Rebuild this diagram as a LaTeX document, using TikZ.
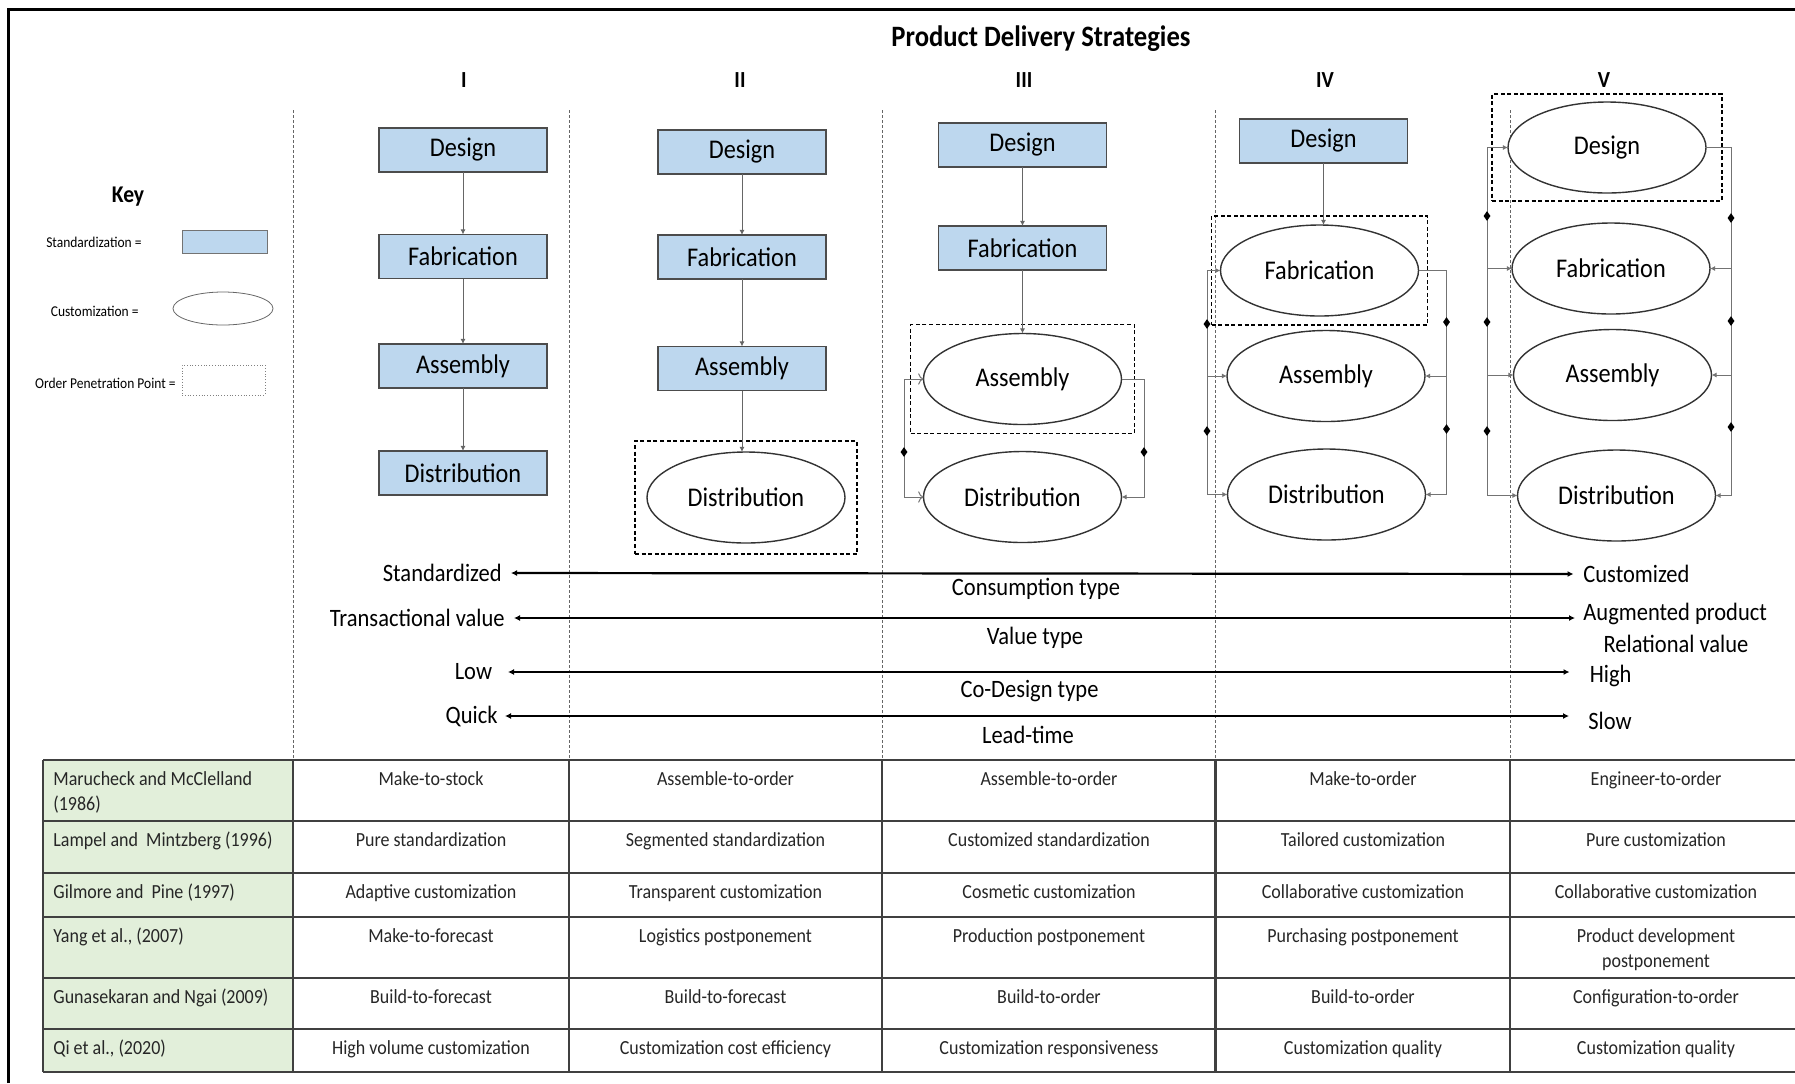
\documentclass[tikz,border=0pt]{standalone}
\usepackage{fontspec}
\setmainfont{Carlito}[FakeStretch=0.9]
\usepackage{tikz}
\usetikzlibrary{shapes.geometric,arrows.meta,fit,positioning}

\definecolor{stdblue}{RGB}{189,215,238}
\definecolor{leadgreen}{RGB}{226,239,218}

\begin{document}
\begin{tikzpicture}[x=0.5pt,y=-0.5pt]
	%\draw[help lines] (0,0) grid (1795,1083);
	\tikzset{
	stdbox/.style = {rectangle, draw=black!70, fill=stdblue, line width=0.6pt,
		minimum width=84pt, minimum height=22pt, inner sep=0pt, outer sep=0pt,
		font=\fontsize{13.5}{16}\selectfont},
	custell/.style = {ellipse, draw=black!80, fill=white, line width=0.7pt,
		minimum width=99pt, minimum height=45.5pt, inner sep=0pt, outer sep=0pt,
		font=\fontsize{13.5}{16}\selectfont},
	oppbox/.style = {rectangle, draw=black, line width=0.75pt, dash pattern=on 2pt off 1.3pt},
	coldiv/.style = {draw=black!60, line width=0.4pt, dash pattern=on 1.5pt off 1pt},
	flow/.style = {draw=black!60, line width=0.5pt, -{Latex[length=2.6pt,width=2.6pt]}},
	loopln/.style = {draw=black!55, line width=0.5pt, arrows={-{Latex[length=2.6pt,width=2.6pt]}}},
	dmd/.style = {diamond, fill=black, inner sep=0pt, minimum width=3.6pt, minimum height=5pt},
	axis/.style = {line width=1.1pt, {Latex[length=3pt,width=3pt]}-{Latex[length=3pt,width=3pt]}},
	axtxt/.style = {inner sep=0pt, font=\fontsize{12.5}{15}\selectfont},
	keytxt/.style = {inner sep=0pt, anchor=east, font=\fontsize{7.5}{9}\selectfont},
	numtxt/.style = {font=\bfseries\fontsize{11.5}{14}\selectfont},
	tcell/.style = {anchor=base, inner sep=0pt, align=center, text=black!85,
		font=\fontsize{10}{12.5}\selectfont},
	tlead/.style = {tcell, anchor=base west, align=left},
	tline/.style = {draw=black!75, line width=1.1pt}
	}
	\useasboundingbox (0,0) rectangle (1795,1083);
	
	% frame and column lines
	\draw[line width=1.5pt] (8,1083) -- (8,9.5) -- (1795,9.5);
	\draw[coldiv] (293,110) -- (293,760);
	\draw[coldiv] (569,110) -- (569,760);
	\draw[coldiv] (882,110) -- (882,760);
	\draw[coldiv] (1215.5,110) -- (1215.5,760);
	\draw[coldiv] (1510,110) -- (1510,760);
	
	\node[font=\bfseries\fontsize{14.8}{17}\selectfont] (title) at (1041,39) {Product Delivery Strategies};
	\node[numtxt] (n1) at (464,80) {I};
	\node[numtxt] (n2) at (740,80) {II};
	\node[numtxt] (n3) at (1024,80) {III};
	\node[numtxt] (n4) at (1325,80) {IV};
	\node[numtxt] (n5) at (1604,80) {V};
	
	% key
	\node[font=\bfseries\fontsize{12}{14}\selectfont] (keyttl) at (128,197) {Key};
	\node[keytxt] (keystd) at (142,242) {Standardization =};
	\node[rectangle, draw=black!55, fill=stdblue, minimum width=42.5pt, minimum height=11.5pt] (keyrect) at (224.5,241.5) {};
	\node[keytxt] (keycus) at (139,311) {Customization =};
	\node[ellipse, draw=black!60, minimum width=50pt, minimum height=16.5pt] (keyell) at (223,308.5) {};
	\node[keytxt] (keyopp) at (176,383) {Order Penetration Point =};
	\node[rectangle, draw=black!50, densely dotted, minimum width=41.5pt, minimum height=15pt] (keydot) at (223.5,380) {};
	
	% I
	\node[stdbox] (des1) at (463,150) {Design};
	\node[stdbox] (fab1) at (463,256.5) {Fabrication};
	\node[stdbox] (asm1) at (463,366) {Assembly};
	\node[stdbox] (dis1) at (463,473) {Distribution};
	\draw[flow] (des1) -- (fab1);
	\draw[flow] (fab1) -- (asm1);
	\draw[flow] (asm1) -- (dis1);
	
	% II
	\node[stdbox] (des2) at (742,152) {Design};
	\node[stdbox] (fab2) at (742,257) {Fabrication};
	\node[stdbox] (asm2) at (742,368.5) {Assembly};
	\node[custell] (dis2) at (746,497.5) {Distribution};
	\node[oppbox, fit=(dis2), inner xsep=6pt, inner ysep=5.5pt] (opp2) {};
	\draw[flow] (des2) -- (fab2);
	\draw[flow] (fab2) -- (asm2);
	\draw[flow] (asm2.south) -- (asm2.south |- dis2.north);
	
	% III
	\node[stdbox] (des3) at (1022.5,145) {Design};
	\node[stdbox] (fab3) at (1022.5,248) {Fabrication};
	\node[custell] (asm3) at (1022.5,379) {Assembly};
	\node[custell] (dis3) at (1022.5,497) {Distribution};
	\node[oppbox, fit=(asm3), inner xsep=6.5pt, inner ysep=4.5pt] (opp3) {};
	\draw[flow] (des3) -- (fab3);
	\draw[flow] (fab3) -- (asm3);
	\coordinate (l3) at (904,0);
	\coordinate (r3) at (1144,0);
	\draw[loopln, <->] (asm3.west) -- (asm3.west -| l3) -- (dis3.west -| l3) -- (dis3.west);
	\draw[loopln] (asm3.east) -- (asm3.east -| r3) -- (dis3.east -| r3) -- (dis3.east);
	\node[dmd] (dm3a) at (904,452) {};
	\node[dmd] (dm3b) at (1144,452) {};
	
	% IV
	\node[stdbox] (des4) at (1323.5,141) {Design};
	\node[custell] (fab4) at (1319.5,270.5) {Fabrication};
	\node[custell] (asm4) at (1326,376) {Assembly};
	\node[custell] (dis4) at (1326.5,494.5) {Distribution};
	\node[oppbox, fit=(fab4), inner xsep=4.5pt, inner ysep=4.5pt] (opp4) {};
	\draw[flow] (des4.south) -- (des4.south |- fab4.north);
	\coordinate (l4) at (1207,0);
	\coordinate (r4) at (1446.5,0);
	\draw[loopln, -] (fab4.west -| l4) -- (dis4.west -| l4);
	\draw[loopln] (fab4.west -| l4) -- (fab4.west);
	\draw[loopln] (asm4.west -| l4) -- (asm4.west);
	\draw[loopln] (dis4.west -| l4) -- (dis4.west);
	\draw[loopln, -] (fab4.east) -- (fab4.east -| r4) -- (dis4.east -| r4);
	\draw[loopln] (asm4.east -| r4) -- (asm4.east);
	\draw[loopln] (dis4.east -| r4) -- (dis4.east);
	\node[dmd] (dm4a) at (1207,324) {};
	\node[dmd] (dm4b) at (1207,431) {};
	\node[dmd] (dm4c) at (1446.5,322) {};
	\node[dmd] (dm4d) at (1446.5,429) {};
	
	% V
	\node[custell] (des5) at (1607,147.5) {Design};
	\node[custell] (fab5) at (1611,268.5) {Fabrication};
	\node[custell] (asm5) at (1612.5,375) {Assembly};
	\node[custell] (dis5) at (1616.5,495.5) {Distribution};
	\node[oppbox, fit=(des5), inner xsep=8pt, inner ysep=4pt] (opp5) {};
	\coordinate (l5) at (1487,0);
	\coordinate (r5) at (1731,0);
	\draw[loopln, -] (des5.west -| l5) -- (dis5.west -| l5);
	\draw[loopln] (des5.west -| l5) -- (des5.west);
	\draw[loopln] (fab5.west -| l5) -- (fab5.west);
	\draw[loopln] (asm5.west -| l5) -- (asm5.west);
	\draw[loopln] (dis5.west -| l5) -- (dis5.west);
	\draw[loopln, -] (des5.east) -- (des5.east -| r5) -- (dis5.east -| r5);
	\draw[loopln] (fab5.east -| r5) -- (fab5.east);
	\draw[loopln] (asm5.east -| r5) -- (asm5.east);
	\draw[loopln] (dis5.east -| r5) -- (dis5.east);
	\node[dmd] (dm5a) at (1487,216) {};
	\node[dmd] (dm5b) at (1487,322) {};
	\node[dmd] (dm5c) at (1487,431) {};
	\node[dmd] (dm5d) at (1731,218) {};
	\node[dmd] (dm5e) at (1731,321) {};
	\node[dmd] (dm5f) at (1731,427) {};
	
	% scales
	\node[axtxt, anchor=east] (stdz) at (502,573) {Standardized};
	\node[axtxt, anchor=west] (cust) at (1583,574) {Customized};
	\node[axtxt] (cons) at (1036,589) {Consumption type};
	\draw[axis, shorten <=4.5pt, shorten >=4.75pt] (stdz.east) -- (cust.west);
	
	\node[axtxt, anchor=east] (trans) at (505,618) {Transactional value};
	\node[axtxt, anchor=west] (augm) at (1583,614) {Augmented product};
	\node[axtxt] (relv) at (1676,644) {Relational value};
	\node[axtxt] (valt) at (1035,638) {Value type};
	\draw[axis, shorten <=4.5pt, shorten >=4pt] (trans.east) -- (trans.east -| augm.west);
	
	\node[axtxt, anchor=east] (low) at (492.5,672) {Low};
	\node[axtxt, anchor=west] (high) at (1589.5,676) {High};
	\node[axtxt] (codes) at (1029.5,691) {Co-Design type};
	\draw[axis, shorten <=7.75pt, shorten >=10pt] (low.east) -- (low.east -| high.west);
	
	\node[axtxt, anchor=east] (quick) at (498,716) {Quick};
	\node[axtxt, anchor=west] (slow) at (1588,721) {Slow};
	\node[axtxt] (leadt) at (1028,735) {Lead-time};
	\draw[axis, shorten <=3.5pt, shorten >=9.5pt] (quick.east) -- (quick.east -| slow.west);
	
	% table
	\fill[leadgreen] (43,760) rectangle (293,1072);
	\draw[tline] (43,760) -- (1800,760);
	\draw[tline] (43,821) -- (1800,821);
	\draw[tline] (43,873) -- (1800,873);
	\draw[tline] (43,917) -- (1800,917);
	\draw[tline] (43,978) -- (1800,978);
	\draw[tline] (43,1029) -- (1800,1029);
	\draw[tline] (43,1072) -- (1800,1072);
	\draw[tline] (43,760) -- (43,1072);
	\draw[tline] (293,760) -- (293,1072);
	\draw[tline] (569,760) -- (569,1072);
	\draw[tline] (882,760) -- (882,1072);
	\draw[tline] (1215.5,760) -- (1215.5,1072);
	\draw[tline] (1510,760) -- (1510,1072);
	
	% two-line cells sit on the baseline of their last line
	\node[tlead] (t10) at (53,810) {Marucheck and McClelland\\(1986)};
	\node[tcell] (t11) at (431,785) {Make-to-stock};
	\node[tcell] (t12) at (725.5,785) {Assemble-to-order};
	\node[tcell] (t13) at (1049,785) {Assemble-to-order};
	\node[tcell] (t14) at (1363,785) {Make-to-order};
	\node[tcell] (t15) at (1656,785) {Engineer-to-order};
	
	\node[tlead] (t20) at (53,846) {Lampel and~ Mintzberg (1996)};
	\node[tcell] (t21) at (431,846) {Pure standardization};
	\node[tcell] (t22) at (725.5,846) {Segmented standardization};
	\node[tcell] (t23) at (1049,846) {Customized standardization};
	\node[tcell] (t24) at (1363,846) {Tailored customization};
	\node[tcell] (t25) at (1656,846) {Pure customization};
	
	\node[tlead] (t30) at (53,898) {Gilmore and~ Pine (1997)};
	\node[tcell] (t31) at (431,898) {Adaptive customization};
	\node[tcell] (t32) at (725.5,898) {Transparent customization};
	\node[tcell] (t33) at (1049,898) {Cosmetic customization};
	\node[tcell] (t34) at (1363,898) {Collaborative customization};
	\node[tcell] (t35) at (1656,898) {Collaborative customization};
	
	\node[tlead] (t40) at (53,942) {Yang et al., (2007)};
	\node[tcell] (t41) at (431,942) {Make-to-forecast};
	\node[tcell] (t42) at (725.5,942) {Logistics postponement};
	\node[tcell] (t43) at (1049,942) {Production postponement};
	\node[tcell] (t44) at (1363,942) {Purchasing postponement};
	\node[tcell] (t45) at (1656,967) {Product development\\postponement};
	
	\node[tlead] (t50) at (53,1003) {Gunasekaran and Ngai (2009)};
	\node[tcell] (t51) at (431,1003) {Build-to-forecast};
	\node[tcell] (t52) at (725.5,1003) {Build-to-forecast};
	\node[tcell] (t53) at (1049,1003) {Build-to-order};
	\node[tcell] (t54) at (1363,1003) {Build-to-order};
	\node[tcell] (t55) at (1656,1003) {Configuration-to-order};
	
	\node[tlead] (t60) at (53,1054) {Qi et al., (2020)};
	\node[tcell] (t61) at (431,1054) {High volume customization};
	\node[tcell] (t62) at (725.5,1054) {Customization cost efficiency};
	\node[tcell] (t63) at (1049,1054) {Customization responsiveness};
	\node[tcell] (t64) at (1363,1054) {Customization quality};
	\node[tcell] (t65) at (1656,1054) {Customization quality};
\end{tikzpicture}
\end{document}
